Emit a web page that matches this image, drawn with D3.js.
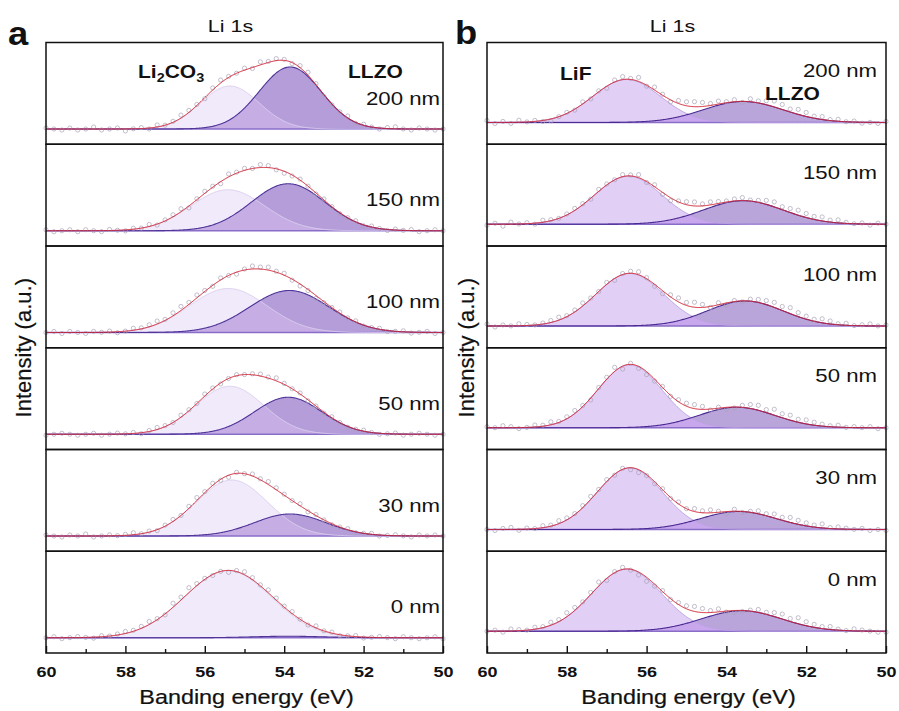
<!DOCTYPE html>
<html>
<head>
<meta charset="utf-8">
<script src="https://cdn.jsdelivr.net/npm/d3@7"></script>
<style>
  body { margin: 0; background: #fff; }
  svg { font-family: "Liberation Sans", Arial, sans-serif; }
</style>
</head>
<body>
<svg id="chart" width="899" height="711"></svg>
<script>
// ---- data (intensities in arbitrary units, baseline = 0) ----
var depths = ["200 nm", "150 nm", "100 nm", "50 nm", "30 nm", "0 nm"];
var xTicks = [60, 58, 56, 54, 52, 50];
var xMinorTicks = [59, 57, 55, 53, 51];
var energies = d3.range(60, 49.99, -0.2);   // measured grid, 0.2 eV step

// panel a: Li2CO3 + LLZO
var li2co3Center = [55.37, 55.42, 55.41, 55.37, 55.32, 55.42];
var li2co3Height = [43, 41, 44, 48, 56, 67];
var li2co3Sigma  = [0.74, 0.93, 0.98, 0.85, 0.9, 1.1];
var llzoACenter  = [53.85, 53.9, 53.87, 53.9, 53.85, 53.9];
var llzoAHeight  = [62, 47, 42, 37, 22, 1.5];
var llzoASigma   = [0.78, 0.93, 1.0, 0.85, 0.9, 0.9];

// panel b: LiF + LLZO
var lifCenter   = [56.5, 56.46, 56.42, 56.42, 56.42, 56.5];
var lifHeight   = [43, 48, 52.5, 63, 61.5, 62];
var lifSigma    = [0.85, 0.85, 0.85, 0.8, 0.82, 0.88];
var llzoBCenter = [53.58, 53.58, 53.53, 53.74, 53.7, 53.62];
var llzoBHeight = [21, 23.5, 25, 20.5, 18, 20.5];
var llzoBSigma  = [1.0, 1.0, 0.95, 0.95, 0.95, 1.0];

// scatter of the measured points around the fit, one array per depth
var residA = [
  [1,0,-1,1,-1,0,2,-1,0,1, -2,0,1,-1,2,0,1,3,2,1, -1,2,3,1,0,2,-1,3,1,2, 1,-1,2,3,1,-2,-1,0,2,-1, 1,0,-1,1,2,0,-1,1,0,-1, 0],
  [1,-1,0,1,-1,1,0,-1,1,0, -1,1,0,2,-1,1,2,3,-2,1, 2,1,-2,3,1,2,0,3,2,-1, -2,-1,1,0,-1,1,0,-1,0,1, -1,1,0,-1,1,0,1,-1,0,1, 0],
  [0,1,-1,1,0,-1,1,0,1,-1, 0,2,1,2,3,1,3,4,2,3, 1,-1,2,0,-2,1,3,2,3,1, 2,-1,-2,-1,-3,-1,0,1,0,1, -1,0,1,-1,0,1,-1,0,1,-1, 0],
  [-1,0,1,0,-1,0,1,-1,0,1, 0,1,-1,1,2,1,0,2,1,0, 2,1,-1,0,1,0,1,2,1,3, 1,0,1,-1,0,-1,1,0,-1,0, 1,0,-1,0,1,-1,0,1,0,-1, 0],
  [1,0,-1,1,0,2,-1,0,1,0, 1,2,0,1,-1,1,2,0,2,3, 1,2,-1,-2,1,0,2,1,3,2, 1,0,2,-1,1,0,-1,0,1,-1, 0,1,-1,0,1,0,-1,1,0,1, 0],
  [0,1,-1,0,1,0,-1,1,0,1, 2,1,2,3,1,-1,4,3,5,2, 1,-1,0,-2,1,3,2,1,3,2, 1,2,0,-1,2,0,1,-1,0,1, -1,0,1,0,-1,1,0,-1,0,1, -1]
];
var residB = [
  [2,-1,1,-1,2,0,1,-1,-2,0, 1,-1,2,-1,1,-2,2,3,1,4, -1,3,1,-2,3,4,5,4,2,3, 1,2,-1,3,2,4,6,5,3,5, 4,2,3,1,2,0,1,-1,0,-1, 1],
  [-1,1,-2,2,0,1,-1,2,1,0, 1,2,1,-1,2,1,0,2,1,3, -1,2,-2,-3,1,3,4,2,3,2, 1,2,3,1,2,4,5,3,4,5, 4,3,4,2,3,1,0,1,-1,1, 0],
  [2,-1,1,0,2,1,0,1,2,3, 1,2,3,1,0,2,-2,1,2,3, 1,-2,-3,2,4,3,5,3,-1,2, -2,1,-1,2,3,4,5,4,6,4, 3,2,4,3,1,2,0,1,2,0, 1],
  [1,0,2,1,-1,0,2,1,3,1, 2,3,1,-2,1,2,4,-3,1,-2, -3,-2,1,-1,2,3,4,3,-1,1, -2,-1,2,4,5,3,6,4,5,3, 4,3,2,1,2,0,1,0,1,-1, 0],
  [0,-1,1,2,-1,1,0,2,1,3, 2,1,2,3,1,2,-1,1,-2,-3, -1,-2,1,-1,2,0,3,2,3,1, -2,2,-1,1,3,2,4,3,5,4, 3,2,4,1,2,1,0,1,-1,0, -1],
  [0,1,-1,2,1,0,2,1,3,2, 4,3,1,2,4,-2,1,2,-1,-3, -4,-2,1,-1,2,3,5,4,2,3, -1,-2,-1,1,3,2,4,5,3,6, 4,3,2,3,1,0,2,1,0,-1, -1]
];

// ---- layout ----
var svg = d3.select("#chart");
var top0 = 42.5, bottom0 = 653;
var rowH = (bottom0 - top0) / depths.length;
var stretch = 1.2;   // text in the figure is a bit wide

function gauss(e, c, h, s) {
  return h * Math.exp(-(e - c) * (e - c) / (2 * s * s));
}

function addText(g, str, x, y, size, weight, anchor, sx) {
  return g.append("text")
    .attr("transform", "translate(" + x + "," + y + ") scale(" + (sx || stretch) + ",1)")
    .attr("font-size", size)
    .attr("font-weight", weight || "normal")
    .attr("text-anchor", anchor || "start")
    .attr("fill", "#111")
    .text(str);
}

function drawPanel(p) {
  var g = svg.append("g");
  var x = d3.scaleLinear().domain([60, 50]).range([p.x0, p.x1]);
  var fine = d3.range(60, 49.999, -0.02);

  depths.forEach(function(depth, i) {
    var top = top0 + i * rowH;
    var y = d3.scaleLinear().domain([-(rowH - p.base), p.base]).range([top + rowH, top]);
    var c1 = function(e) { return gauss(e, p.c1.center[i], p.c1.height[i], p.c1.sigma[i]); };
    var c2 = function(e) { return gauss(e, p.c2.center[i], p.c2.height[i], p.c2.sigma[i]); };
    var fit = function(e) { return c1(e) + c2(e); };

    var area = function(f) {
      return d3.area().x(function(e) { return x(e); }).y0(y(0)).y1(function(e) { return y(f(e)); });
    };
    var line = function(f) {
      return d3.line().x(function(e) { return x(e); }).y(function(e) { return y(f(e)); });
    };

    g.append("path").attr("d", area(c1)(fine)).attr("fill", p.col1);
    g.append("path").attr("d", area(c2)(fine)).attr("fill", p.col2);
    g.append("path").attr("d", area(function(e) { return Math.min(c1(e), c2(e)); })(fine))
      .attr("fill", p.colOverlap);

    // baseline
    g.append("line")
      .attr("x1", x(60)).attr("x2", x(50)).attr("y1", y(0)).attr("y2", y(0))
      .attr("stroke", "#8a6cc9").attr("stroke-width", 1.6);

    g.append("path").attr("d", line(c1)(fine)).attr("fill", "none")
      .attr("stroke", p.line1).attr("stroke-width", 1);
    g.append("path").attr("d", line(c2)(fine)).attr("fill", "none")
      .attr("stroke", p.line2).attr("stroke-width", 1.1);

    // measured points
    g.selectAll(".pt" + p.id + i)
      .data(energies)
      .enter().append("circle")
      .attr("cx", function(e) { return x(e); })
      .attr("cy", function(e, k) { return y(fit(e) + (p.resid[i][k] || 0)); })
      .attr("r", 2.1)
      .attr("fill", "none")
      .attr("stroke", "#a9a2b6")
      .attr("stroke-width", 0.7);

    // envelope
    g.append("path").attr("d", line(fit)(fine)).attr("fill", "none")
      .attr("stroke", "#d42535").attr("stroke-width", 1);

    addText(g, depth, p.labelX, top + p.labelDy, 18.5, "normal", "end");

    g.append("rect")
      .attr("x", p.x0).attr("y", top).attr("width", p.x1 - p.x0).attr("height", rowH)
      .attr("fill", "none").attr("stroke", "#111").attr("stroke-width", 1.5);
  });

  // bottom axis, ticks pointing inward
  var axisG = g.append("g").attr("transform", "translate(0," + bottom0 + ")");
  axisG.call(d3.axisBottom(x).tickValues(xTicks).tickSize(-7).tickPadding(13.5).tickFormat(d3.format("d")));
  axisG.append("g").call(d3.axisBottom(x).tickValues(xMinorTicks).tickSize(-4).tickFormat(""));
  axisG.selectAll(".domain").remove();
  axisG.selectAll(".tick line").attr("stroke", "#111").attr("stroke-width", 1.4);
  axisG.selectAll(".tick text")
    .attr("font-family", "Liberation Sans, Arial, sans-serif")
    .attr("font-size", 15).attr("font-weight", "bold").attr("fill", "#111")
    .attr("transform", "scale(" + stretch + ",1)");

  addText(g, "Banding energy (eV)", (p.x0 + p.x1) / 2 + 2, 704, 19.5, "normal", "middle")
    .attr("stroke", "#111").attr("stroke-width", 0.2);
  addText(g, "Li 1s", (p.x0 + p.x1) / 2 - 14, 32, 16.5, "normal", "middle", 1.3);
  addText(g, p.letter, p.letterX, p.letterY, 33, "bold", "start", 1.1);

  g.append("text")
    .attr("transform", "translate(" + p.yTitleX + "," + ((top0 + bottom0) / 2) + ") rotate(-90)")
    .attr("font-size", 22).attr("text-anchor", "middle").attr("fill", "#111")
    .attr("stroke", "#111").attr("stroke-width", 0.2)
    .text("Intensity (a.u.)");

  return g;
}

var ga = drawPanel({
  id: "a", x0: 46, x1: 443, base: 86.5,
  c1: { center: li2co3Center, height: li2co3Height, sigma: li2co3Sigma },
  c2: { center: llzoACenter, height: llzoAHeight, sigma: llzoASigma },
  resid: residA,
  col1: "#f1eafa", col2: "#b49dd8", colOverlap: "#c6aee5",
  line1: "#dcd0f0", line2: "#4f3598",
  labelX: 440, labelDy: 62,
  letter: "a", letterX: 8, letterY: 45, yTitleX: 31
});

var gb = drawPanel({
  id: "b", x0: 487, x1: 886, base: 80,
  c1: { center: lifCenter, height: lifHeight, sigma: lifSigma },
  c2: { center: llzoBCenter, height: llzoBHeight, sigma: llzoBSigma },
  resid: residB,
  col1: "#e2cff6", col2: "#b9a5da", colOverlap: "#c8a7ec",
  line1: "#bda3e4", line2: "#4a2b92",
  labelX: 877, labelDy: 34.5,
  letter: "b", letterX: 455, letterY: 44, yTitleX: 474
});

// component names
var sub = ga.append("text")
  .attr("transform", "translate(138,78) scale(" + stretch + ",1)")
  .attr("font-size", 17.5).attr("font-weight", "bold").attr("fill", "#111");
sub.append("tspan").text("Li");
sub.append("tspan").attr("font-size", 12).attr("dy", 4).text("2");
sub.append("tspan").attr("dy", -4).text("CO");
sub.append("tspan").attr("font-size", 12).attr("dy", 4).text("3");

addText(ga, "LLZO", 348, 78, 17.5, "bold", "start");
addText(gb, "LiF", 560, 80, 17.5, "bold", "start");
addText(gb, "LLZO", 765, 100, 17.5, "bold", "start");
</script>
</body>
</html>
